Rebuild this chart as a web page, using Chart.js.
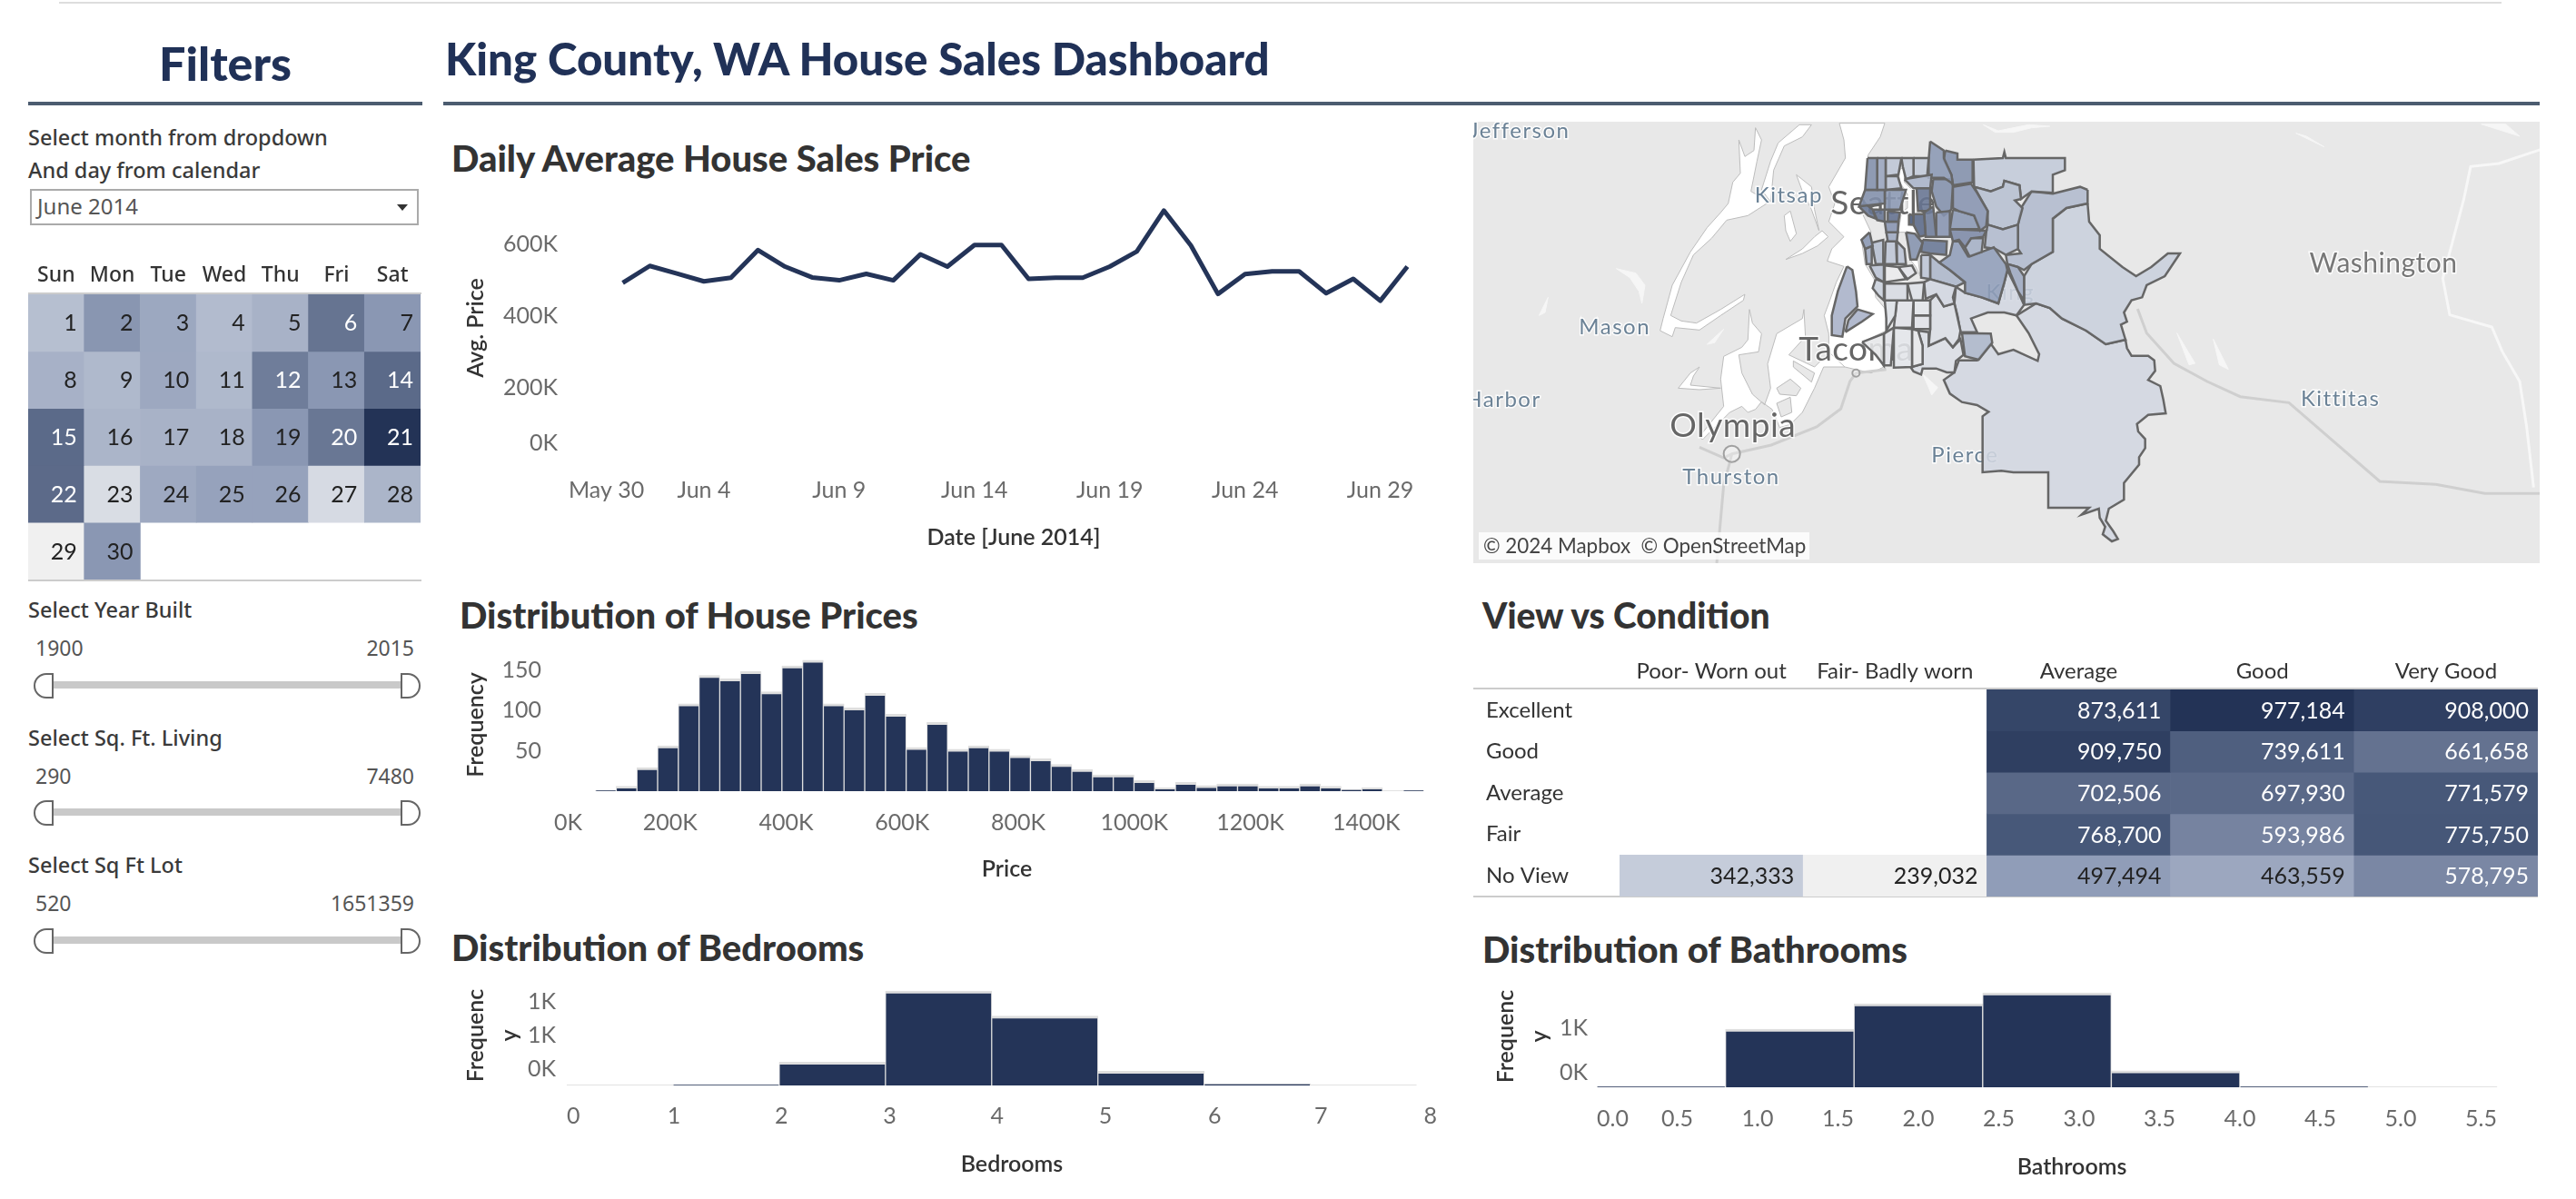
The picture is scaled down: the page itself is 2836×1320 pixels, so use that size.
<!DOCTYPE html>
<html>
<head>
<meta charset="utf-8">
<title>King County, WA House Sales Dashboard</title>
<script src="https://cdn.jsdelivr.net/npm/chart.js@4"></script>
<style>
  html, body { margin: 0; background: #fff; }
  #page { position: relative; width: 2836px; height: 1320px; overflow: hidden; font-family: Lato, sans-serif; color: #333; }
  #page canvas { position: absolute; }
  .t { position: absolute; white-space: nowrap; line-height: 1; transform: translateY(-50%); }
  .main { color: #203157; font-weight: 900; font-size: 49.3px; }
  .sec { font-weight: 900; font-size: 40px; color: #333; }
  .lab { font-family: "Noto Sans", sans-serif; font-weight: 500; font-size: 23.5px; color: #3a3a3a; }
  .val { font-family: "Noto Sans", sans-serif; font-size: 23px; color: #555; }
  .rule { position: absolute; }
  .track { position: absolute; left: 57px; width: 385px; height: 8px; background: #c9c9c9; }
  .grip { position: absolute; width: 18px; height: 24px; border: 2px solid #666; background: #fff; }
</style>
</head>
<body>
<div id="page">
  <div class="rule" style="left:65px;top:2px;width:2689px;height:2px;background:#ddd"></div>

  <div class="t main" style="left:175px;top:69px;font-size:52px">Filters</div>
  <div class="t main" style="left:490px;top:65px">King County, WA House Sales Dashboard</div>
  <div class="rule" style="left:31px;top:112px;width:434px;height:4px;background:#4c5c70"></div>
  <div class="rule" style="left:488px;top:112px;width:2308px;height:4px;background:#4c5c70"></div>

  <div class="t lab" style="left:31px;top:152px">Select month from dropdown</div>
  <div class="t lab" style="left:31px;top:188px">And day from calendar</div>
  <div class="rule" style="left:33px;top:208px;width:424px;height:36px;border:2px solid #aaa"></div>
  <div class="t val" style="left:41px;top:227px;font-size:24px">June 2014</div>
  <div class="rule" style="left:437px;top:225px;width:0;height:0;border-left:6px solid transparent;border-right:6px solid transparent;border-top:7px solid #333"></div>

  <div class="rule" style="left:31px;top:322px;width:433px;height:2px;background:#ccc"></div>
  <div class="rule" style="left:31px;top:638px;width:433px;height:2px;background:#ccc"></div>

  <div class="t lab" style="left:31px;top:672px">Select Year Built</div>
  <div class="t val" style="left:39px;top:713px">1900</div>
  <div class="t val" style="right:2380px;top:713px">2015</div>
  <div class="track" style="top:750px"></div>
  <div class="grip" style="left:37px;top:741px;border-radius:14px 0 0 14px"></div>
  <div class="grip" style="left:441px;top:741px;border-radius:0 14px 14px 0"></div>

  <div class="t lab" style="left:31px;top:813px">Select Sq. Ft. Living</div>
  <div class="t val" style="left:39px;top:854px">290</div>
  <div class="t val" style="right:2380px;top:854px">7480</div>
  <div class="track" style="top:890px"></div>
  <div class="grip" style="left:37px;top:881px;border-radius:14px 0 0 14px"></div>
  <div class="grip" style="left:441px;top:881px;border-radius:0 14px 14px 0"></div>

  <div class="t lab" style="left:31px;top:953px">Select Sq Ft Lot</div>
  <div class="t val" style="left:39px;top:994px">520</div>
  <div class="t val" style="right:2380px;top:994px">1651359</div>
  <div class="track" style="top:1031px"></div>
  <div class="grip" style="left:37px;top:1022px;border-radius:14px 0 0 14px"></div>
  <div class="grip" style="left:441px;top:1022px;border-radius:0 14px 14px 0"></div>

  <div class="t sec" style="left:497px;top:174px">Daily Average House Sales Price</div>
  <div class="t sec" style="left:506px;top:677px">Distribution of House Prices</div>
  <div class="t sec" style="left:497px;top:1043px">Distribution of Bedrooms</div>
  <div class="t sec" style="left:1632px;top:677px;font-size:39px">View vs Condition</div>
  <div class="t sec" style="left:1632px;top:1045px">Distribution of Bathrooms</div>

  <div class="rule" style="left:1622px;top:757px;width:1172px;height:2px;background:#ccc"></div>
  <div class="rule" style="left:1622px;top:986px;width:1172px;height:2px;background:#ccc"></div>
</div>

<script>
// ---- calendar + daily line (same values, the calendar colour is the avg price)
var juneDays = [1,2,3,4,5,6,7,8,9,10,11,12,13,14,15,16,17,18,19,20,21,22,23,24,25,26,27,28,29,30];
var dailyAvgPrice = [492000,539000,518000,496000,506000,583000,537000,507000,499000,517000,
                     499000,571000,537000,597000,597000,503000,506000,506000,537000,579000,
                     693000,596000,461000,516000,524000,524000,463000,503000,442000,537000];
var dateTickDays = [-1,4,9,14,19,24,29,31.9];
var dateTickLabels = ['May 30','Jun 4','Jun 9','Jun 14','Jun 19','Jun 24','Jun 29',''];
var priceTickSpots = [45000,200000,400000,600000];
var priceTickLabels = ['0K','200K','400K','600K'];

var weekdays = ['Sun','Mon','Tue','Wed','Thu','Fri','Sat'];
var calendarWeeks = [
  [1,2,3,4,5,6,7],
  [8,9,10,11,12,13,14],
  [15,16,17,18,19,20,21],
  [22,23,24,25,26,27,28],
  [29,30,null,null,null,null,null]
];

// ---- price histogram
var priceBinWidthK = 35.7;
var priceBinNumber = [2,3,4,5,6,7,8,9,10,11,12,13,14,15,16,17,18,19,20,21,22,23,24,25,26,27,28,29,30,31,32,33,34,35,36,37,38,39,41];
var priceBinCount = [1,6,29,56,108,143,139,148,123,155,162,108,103,121,95,54,85,52,56,52,44,40,33,27,20,20,13,4,11,7,9,9,6,6,9,6,2,4,1];
var histTickK = [0,200,400,600,800,1000,1200,1400,1561];
var histTickLabels = ['0K','200K','400K','600K','800K','1000K','1200K','1400K',''];
var freqTicks = [50,100,150];

// ---- bedrooms / bathrooms
var bedroomBins = [1.5,2.5,3.5,4.5,5.5,6.5];
var bedroomCount = [8,279,1130,830,170,18];
var bedroomTickSpots = [0,1.01,2.02,3.04,4.05,5.07,6.1,7.1,8.13,8.38];
var bedroomTickLabels = ['0','1','2','3','4','5','6','7','8',''];
var bedroomFreqSpots = [200,600,1000];
var bedroomFreqLabels = ['0K','1K','1K'];

var bathroomBins = [0.4,1.2,2.0,2.8,3.6,4.4];
var bathroomCount = [9,556,800,904,157,6];
var bathroomTicks = [0,0.5,1,1.5,2,2.5,3,3.5,4,4.5,5,5.5,5.91];
var bathroomTickLabels = ['0.0','0.5','1.0','1.5','2.0','2.5','3.0','3.5','4.0','4.5','5.0','5.5',''];
var bathroomFreqSpots = [140,565];
var bathroomFreqLabels = ['0K','1K'];

// ---- view vs condition
var conditions = ['Poor- Worn out','Fair- Badly worn','Average','Good','Very Good'];
var viewLevels = ['Excellent','Good','Average','Fair','No View'];
var excellentRow = [null,null,873611,977184,908000];
var goodRow = [null,null,909750,739611,661658];
var averageRow = [null,null,702506,697930,771579];
var fairRow = [null,null,768700,593986,775750];
var noViewRow = [342333,239032,497494,463559,578795];

// ---- map outlines in map units (3 units = 1 px)
var regionOutlines = [
  [455,305,470,310,470,340,455,340],
  [470,305,505,305,510,375,490,380,470,340],
  [505,300,535,280,545,380,510,380],
  [545,300,590,295,590,380,545,380],
  [445,365,475,370,500,400,480,455,460,455,455,420],
  [500,390,580,395,578,440,525,435,495,430],
  [480,220,525,220,525,295,485,295],
  [440,190,530,175,525,220,470,220],
  [318,120,350,120,350,225,310,225],
  [350,120,378,120,378,225,350,225],
  [378,120,430,120,420,175,378,180],
  [430,120,470,120,470,180,445,190,435,150],
  [470,120,520,120,515,180,470,180],
  [378,180,418,180,430,220,378,225],
  [310,225,375,225,375,270,290,280],
  [375,225,445,225,425,290,375,290],
  [290,280,310,270,335,290,345,320,320,310],
  [335,290,375,290,375,330,350,325],
  [385,295,425,300,420,330,385,330],
  [375,330,420,330,418,365,380,365],
  [380,365,418,365,415,395,385,395],
  [325,365,335,410,310,420,298,390],
  [310,420,332,410,332,470,315,470],
  [332,400,370,390,370,470,345,470],
  [378,395,412,395,415,470,375,470],
  [415,395,440,420,445,470,415,470],
  [325,475,372,472,372,530,345,515],
  [375,475,420,480,445,520,375,530],
  [420,480,465,475,478,500,450,520],
  [250,478,268,490,280,560,285,610,265,630,245,650,235,710,200,705,200,640,220,560],
  [245,695,255,655,285,620,335,635,300,660],
  [345,520,372,530,372,590,355,575,335,550],
  [375,535,450,535,450,590,420,590,375,590],
  [450,535,505,530,500,590,465,590],
  [505,530,525,520,610,545,600,580,605,600,570,610,545,570,510,585],
  [375,590,415,590,410,640,380,690,380,650],
  [415,590,470,590,465,680,405,680],
  [470,590,525,590,525,640,470,640],
  [470,640,525,640,525,685,470,685],
  [525,590,545,570,570,610,605,600,625,690,620,718,600,745,575,715,520,740,525,685],
  [300,728,372,700,372,805,345,770],
  [372,700,405,680,395,805,372,805],
  [405,680,465,685,465,810,405,812],
  [465,685,485,690,500,740,500,800,465,810],
  [485,690,520,695,520,740,575,715,600,745,625,718,635,770,610,790,605,828,580,828,545,815,500,815,495,835,470,825,460,810,500,800,500,740],
  [630,698,725,700,730,730,685,786,640,775],
  [525,65,570,95,570,120,595,175,600,205,570,185,520,185,520,125],
  [575,95,615,105,615,125,665,125,665,200,600,210,595,175,570,125],
  [535,190,590,190,600,210,595,290,570,310,545,280,530,230],
  [600,215,660,205,680,235,715,295,710,345,690,360,670,310,620,295,600,285],
  [600,290,620,295,670,310,690,355,590,355],
  [590,355,710,360,700,380,660,385,640,415,620,390,600,395],
  [640,415,660,385,700,385,695,430,655,445],
  [600,395,620,395,650,445,695,430,735,415,775,470,780,490,770,530,750,600,695,580,640,565,640,530,590,490,555,465,590,440],
  [780,470,815,480,835,510,835,590,815,560,790,500],
  [495,440,525,440,525,520,495,515],
  [525,440,555,465,590,490,640,530,610,545,525,520],
  [715,340,765,355,815,340,815,420,775,440,740,420,705,415,710,365],
  [670,215,725,230,765,215,770,195,820,210,825,255,805,260,830,285,815,340,765,355,715,340,715,295],
  [668,125,765,120,770,100,775,120,970,120,970,160,930,175,930,235,860,230,825,255,820,210,770,195,765,215,725,230,670,215],
  [1045,225,1020,215,930,238,860,230,825,285,815,340,815,420,825,435,775,440,780,470,815,480,835,490,860,470,930,430,930,320,975,285,1045,270],
  [610,545,640,565,695,580,750,600,770,530,780,490,815,560,835,605,810,640,770,630,715,630,660,650,680,695,625,695,615,640,605,600],
  [1045,270,1050,330,1085,375,1085,420,1160,480,1205,510,1255,480,1310,435,1350,435,1300,510,1240,540,1225,580,1190,590,1165,630,1175,660,1155,670,1170,720,1105,735,1040,690,960,650,920,615,875,600,835,605,835,510,860,470,930,430,930,320,975,285],
  [810,640,875,600,920,615,960,650,1040,690,1105,735,1170,720,1175,748,1190,773,1245,773,1265,788,1268,823,1245,853,1285,873,1295,918,1303,963,1245,968,1208,998,1212,1023,1235,1048,1235,1078,1215,1108,1215,1133,1165,1193,1165,1248,1115,1278,1105,1318,1130,1353,1145,1378,1125,1386,1095,1363,1103,1338,1085,1308,1082,1278,1025,1298,1050,1275,915,1275,915,1158,800,1158,760,1153,698,1158,698,973,718,958,680,936,630,926,590,898,570,853,605,828,620,788,680,788,725,733,750,768,800,753,880,790,885,768,850,698]
];
var regionLevel = [0.72,0.62,0.52,0.4,0.42,0.55,0.56,0.25,0.42,0.32,0.17,0.14,0.15,0.18,0.42,0.38,0.55,0.56,0.58,0.4,0.3,
                   0.38,0.3,0.2,0.17,0.18,0.18,0.02,0.05,0.26,0.26,0.12,0.08,0.06,0.1,0.06,0.05,0.04,0.05,0.07,
                   0.03,0.05,0.04,0.03,0.07,0.24,0.38,0.42,0.42,0.4,0.38,0.45,0.27,0.35,0.3,0.17,0.24,0.22,0.2,0.15,0.22,0.1,0.13,0.1];
var waterOutlines = [
  [225,5,375,5,360,50,320,110,310,225,290,280,330,365,298,390,310,470,340,520,345,580,378,620,380,690,300,728,345,770,372,810,330,830,243,810,190,760,190,700,175,640,190,600,215,530,240,478,185,460,200,420,240,380,190,330,210,270,190,215,245,120,240,60],
  [420,160,438,150,440,200,475,235,472,300,455,305,455,340,470,345,500,400,485,455,492,510,478,480,455,450,445,365,420,365,430,300,450,285,450,240,425,200],
  [-52,20,-32,60,-47,130,-67,230,-7,265,-77,310,-147,325,-197,385,-257,440,-297,530,-332,640,-297,658,-247,665,-167,620,-87,570,-92,590,-167,640,-237,688,-317,680,-327,710,-367,690,-357,650,-327,540,-267,430,-212,350,-167,300,-142,270,-127,200,-102,170,-107,60,-87,115,-57,95],
  [133,10,93,10,23,70,-2,130,-32,225,-2,265,8,160,43,80,103,50],
  [43,310,63,295,83,370,63,395,48,360],
  [48,455,103,420,143,380,168,360,188,380,153,410,103,435],
  [83,175,133,215,143,290,158,360,133,290,103,230],
  [-72,620,-62,665,-32,700,-42,760,-107,770,-97,830,-62,900,-22,935,-2,880,-12,800,18,700,103,650,108,620,113,710,58,770,143,810,183,770,198,720,243,720,243,810,173,810,143,880,103,960,63,1000,28,1010,3,950,-32,925,-52,950,-77,960,-97,940,-137,960,-177,1000,-227,1050,-237,1040,-157,940,-167,850,-157,775,-97,745,-77,720],
  [-307,880,-267,830,-237,810,-257,840,-267,870,-167,880,-237,885]
];
var islandOutlines = [
  [73,790,143,830,133,860,73,810],
  [18,880,63,850,98,880,83,905,28,900],
  [18,930,63,910,68,960,33,975]
];
var paleOutlines = [
  [-512,485,-447,500,-417,540,-427,600,-437,560,-467,515],
  [-767,640,-737,580,-747,630],
  [-212,735,-157,685,-187,730],
  [500,833,550,878,530,903,520,878],
  [1340,698,1400,798,1380,803],
  [1460,718,1510,818,1480,803],
  [700,10,750,30,850,10,920,15,860,20,800,35,740,35],
  [1733,38,1826,83,1768,48],
  [2345,8,2472,48,2426,8]
];
var riverLine = [2553,88,2403,138,2310,148,2287,258,2218,518,2241,638,2380,678,2414,758,2472,858,2495,1008,2518,1208];
var roadLines = [
  [1210,618,1240,698,1330,798,1440,858,1549,908,1710,928,2010,1188,2195,1198,2357,1228,2541,1228],
  [-237,1075,-157,1110,-130,1097,0,1068,150,1008,230,948,260,858,280,830,380,818],
  [-130,1097,-137,1125,-157,1200,-180,1458]
];
var mapLabels = ['Jefferson','Kitsap','Seattle','Mason','Washington','Kittitas','Harbor','Olympia','Thurston','Tacoma','Pierce','King'];
var mapLabelX = [-831,58,370,-517,2022,1880,-885,-127,-132,280,640,790];
var mapLabelY = [30,245,270,680,468,916,920,1005,1175,753,1103,565];
var mapLabelKind = ['small','small','big','small','mid','small','small','big','small','big','small','small'];
var cityDotX = [-130,280];
var cityDotY = [1097,830];

// ---- shared styling
var navy = '#243458';
var tickColor = '#6a6a6a';
var titleColor = '#333';
var rampStops = [0,0.14,0.35,0.57,0.72,1];
var rampRGB = [[240,240,240],[197,204,218],[144,157,184],[100,114,144],[71,88,121],[35,51,86]];

function rampColor(f, alpha) {
    var i = 0;
    while (i < rampStops.length - 2 && f > rampStops[i + 1]) i++;
    var k = (f - rampStops[i]) / (rampStops[i + 1] - rampStops[i]);
    var c = rampRGB[i].map(function (a, n) { return Math.round(a + (rampRGB[i + 1][n] - a) * k); });
    return 'rgba(' + c.join(',') + ',' + (alpha === undefined ? 1 : alpha) + ')';
}

function addCanvas(left, top, width, height) {
    var c = document.createElement('canvas');
    c.width = width;
    c.height = height;
    c.style.left = left + 'px';
    c.style.top = top + 'px';
    c.style.width = width + 'px';
    c.style.height = height + 'px';
    document.getElementById('page').appendChild(c);
    return c;
}

// pins an axis to a size and drops the room chart.js keeps for half labels
function fixedSize(px) {
    return function (scale) {
        if (scale.isHorizontal()) scale.height = px; else scale.width = px;
        scale.paddingTop = scale.paddingBottom = scale.paddingLeft = scale.paddingRight = 0;
    };
}

function placedTicks(spots) {
    return function (scale) {
        scale.ticks = spots.map(function (v) { return { value: v }; });
    };
}

Chart.defaults.font.family = 'Lato, sans-serif';
Chart.defaults.animation = false;
Chart.defaults.responsive = false;
Chart.defaults.devicePixelRatio = 1;
Chart.defaults.plugins.legend.display = false;
Chart.defaults.plugins.tooltip.enabled = false;
Chart.defaults.layout.autoPadding = false;

function axisTitle(text, lineHeight) {
    return { display: true, text: text, color: titleColor, padding: 0, font: { size: 25, weight: '600', lineHeight: lineHeight || 1.2 } };
}

// x axis that keeps its labels at given spots; first and last label stay inside
function spotXAxis(min, max, spots, labels, pad, height, title) {
    return {
        type: 'linear', min: min, max: max, offset: false,
        grid: { display: false, drawTicks: false }, border: { display: false },
        afterBuildTicks: placedTicks(spots), afterFit: fixedSize(height),
        ticks: { autoSkip: false, maxRotation: 0, align: 'inner', padding: pad, color: tickColor, font: { size: 25 },
                 callback: function (v, i) { return labels[i]; } },
        title: axisTitle(title)
    };
}

function spotYAxis(min, max, spots, labels, width, pad, title, lineHeight) {
    return {
        min: min, max: max,
        grid: { display: false, drawTicks: false }, border: { display: false },
        afterBuildTicks: placedTicks(spots), afterFit: fixedSize(width),
        ticks: { autoSkip: false, padding: pad, color: tickColor, font: { size: 25 },
                 callback: function (v, i) { return labels[i]; } },
        title: axisTitle(title, lineHeight)
    };
}

// writes a number into each heat cell
var cellText = {
    id: 'cellText',
    afterDatasetsDraw: function (chart, args, opts) {
        var ctx = chart.ctx;
        ctx.save();
        ctx.font = opts.size + 'px Lato, sans-serif';
        ctx.textAlign = 'right';
        ctx.textBaseline = 'middle';
        chart.data.datasets.forEach(function (ds, d) {
            chart.getDatasetMeta(d).data.forEach(function (bar, i) {
                if (ds.cellText[i] === null) return;
                ctx.fillStyle = ds.cellInk[i];
                ctx.fillText(ds.cellText[i], bar.x + bar.width / 2 - opts.pad, (bar.y + bar.base) / 2 + 1);
            });
        });
        ctx.restore();
    }
};

function heatDataset(values, row, low, high, toText) {
    var level = values.map(function (v) { return v === null ? 0 : (v - low) / (high - low); });
    return {
        data: values.map(function (v) { return v === null ? null : [row, row + 1]; }),
        grouped: false, categoryPercentage: 1, barPercentage: 1,
        backgroundColor: level.map(function (f) { return rampColor(f); }),
        cellText: values.map(function (v) { return v === null ? null : toText(v); }),
        cellInk: level.map(function (f) { return f >= 0.42 ? '#fff' : '#222'; })
    };
}

// ---- calendar
var priceLow = Math.min.apply(null, dailyAvgPrice);
var priceHigh = Math.max.apply(null, dailyAvgPrice);
new Chart(addCanvas(31, 280, 432, 358), {
    type: 'bar',
    data: {
        labels: weekdays,
        datasets: calendarWeeks.map(function (week, w) {
            var prices = week.map(function (d) { return d === null ? null : dailyAvgPrice[juneDays.indexOf(d)]; });
            var ds = heatDataset(prices, w, priceLow, priceHigh, String);
            ds.cellText = week.map(function (d) { return d; });
            return ds;
        })
    },
    options: {
        plugins: { cellText: { size: 25, pad: 8 } },
        scales: {
            x: { position: 'top', grid: { display: false, drawTicks: false }, border: { display: false }, afterFit: fixedSize(44),
                 ticks: { padding: 7, color: '#333', font: { family: '"Noto Sans", sans-serif', size: 23, weight: '500' } } },
            y: { display: false, min: 0, max: 5, reverse: true }
        }
    },
    plugins: [cellText]
});

// ---- daily average line
new Chart(addCanvas(509, 216, 1097, 391), {
    type: 'line',
    data: {
        datasets: [{
            data: juneDays.map(function (d, i) { return { x: d, y: dailyAvgPrice[i] }; }),
            borderColor: navy, borderWidth: 5, pointRadius: 0, tension: 0, borderJoinStyle: 'round'
        }]
    },
    options: {
        scales: {
            x: spotXAxis(-1, 31.9, dateTickDays, dateTickLabels, 19, 101, 'Date [June 2014]'),
            y: spotYAxis(0, 733000, priceTickSpots, priceTickLabels, 117, 12, 'Avg. Price')
        }
    }
});

// ---- histogram helper, with a faint zero line under the bars
function histChart(canvas, bins, counts, barPx, baseEnds, x, y) {
    return new Chart(canvas, {
        type: 'bar',
        data: {
            datasets: [{
                data: bins.map(function (b, i) { return { x: b, y: counts[i] }; }),
                backgroundColor: navy, barThickness: barPx,
                borderColor: '#dedede', borderWidth: { top: 3, left: 1, right: 1, bottom: 0 }, borderSkipped: false
            }, {
                type: 'line', data: [{ x: baseEnds[0], y: 0 }, { x: baseEnds[1], y: 0 }],
                borderColor: '#e2e2e2', borderWidth: 2, pointRadius: 0
            }]
        },
        options: { scales: { x: x, y: y } }
    });
}

// ---- price distribution
histChart(addCanvas(509, 725, 1098, 247),
    priceBinNumber.map(function (n) { return (n + 0.5) * priceBinWidthK; }), priceBinCount, 22.8, [71, 1488],
    spotXAxis(0, 1561, histTickK, histTickLabels, 20, 101, 'Price'),
    spotYAxis(0, 164, freqTicks, freqTicks, 101, 14, 'Frequency'));

// ---- bedrooms
histChart(addCanvas(505, 1085, 1099, 212), bedroomBins, bedroomCount, 117, [0, 8],
    spotXAxis(0, 8.38, bedroomTickSpots, bedroomTickLabels, 19, 102, 'Bedrooms'),
    spotYAxis(0, 1196, bedroomFreqSpots, bedroomFreqLabels, 119, 12, ['Frequenc', 'y'], 37 / 25));

// ---- bathrooms
histChart(addCanvas(1639, 1085, 1165, 215), bathroomBins, bathroomCount, 141.5, [0, 5.6],
    spotXAxis(0, 5.91, bathroomTicks, bathroomTickLabels, 20, 103, 'Bathrooms'),
    spotYAxis(0, 974, bathroomFreqSpots, bathroomFreqLabels, 119, 10, ['Frequenc', 'y'], 37 / 25));

// ---- view vs condition table
var tableLow = 239032;
var tableHigh = 977184;
var tableRows = [excellentRow, goodRow, averageRow, fairRow, noViewRow];
new Chart(addCanvas(1636, 715, 1158, 272), {
    type: 'bar',
    data: {
        labels: conditions,
        datasets: tableRows.map(function (row, r) {
            return heatDataset(row, r, tableLow, tableHigh, function (v) { return v.toLocaleString('en-US'); });
        })
    },
    options: {
        plugins: { cellText: { size: 25, pad: 10 } },
        scales: {
            x: { position: 'top', grid: { display: false, drawTicks: false }, border: { display: false }, afterFit: fixedSize(44),
                 ticks: { padding: 5, color: '#333', font: { size: 24 } } },
            y: { min: 0, max: 5, reverse: true, grid: { display: false, drawTicks: false }, border: { display: false },
                 afterBuildTicks: placedTicks([0.5, 1.5, 2.5, 3.5, 4.5]), afterFit: fixedSize(147),
                 ticks: { crossAlign: 'far', color: '#333', font: { size: 24 }, callback: function (v, i) { return viewLevels[i]; } } }
        }
    },
    plugins: [cellText]
});

// ---- map
function toPoints(flat) {
    var pts = [];
    for (var i = 0; i < flat.length; i += 2) pts.push({ x: flat[i], y: flat[i + 1] });
    return pts;
}

function shapeDataset(flat, fillColor, lineColor, lineWidth) {
    return { data: toPoints(flat.concat(flat.slice(0, 2))), showLine: true, fill: 'shape', backgroundColor: fillColor,
             borderColor: lineColor, borderWidth: lineWidth, pointRadius: 0, tension: 0 };
}

function lineDataset(flat, lineColor, lineWidth) {
    return { data: toPoints(flat), showLine: true, fill: false, borderColor: lineColor,
             borderWidth: lineWidth, pointRadius: 0, tension: 0 };
}

var mapRegions = regionOutlines.map(function (o, i) {
    return shapeDataset(o, rampColor(regionLevel[i], 0.88), '#666', 2.5);
});
var mapDots = { data: cityDotX.map(function (x, i) { return { x: x, y: cityDotY[i] }; }),
                pointRadius: [9, 4], pointBackgroundColor: 'rgba(255,255,255,.3)', pointBorderColor: '#a0a0a0', pointBorderWidth: 2 };
var mapLines = [lineDataset(riverLine, '#f7f7f7', 3)].concat(roadLines.map(function (r) { return lineDataset(r, '#cfcfcf', 3); }));
var mapIslands = islandOutlines.map(function (o) { return shapeDataset(o, '#e8e8e8', '#bbb', 1); });
var mapWater = waterOutlines.map(function (o) { return shapeDataset(o, '#fff', '#bdbdbd', 1); });
var mapPale = paleOutlines.map(function (o) { return shapeDataset(o, '#f6f6f6', '#f6f6f6', 1); });

var labelFont = { small: [24, '#6b8296', '1.5px'], mid: [30, '#777', '0.5px'], big: [37, '#666', '0.5px'] };
var placeNames = {
    id: 'placeNames',
    afterDatasetDraw: function (chart, args) {
        if (args.index !== mapRegions.length + 1) return;   // right before the regions are painted
        var ctx = chart.ctx;
        ctx.save();
        ctx.textAlign = 'center';
        ctx.textBaseline = 'middle';
        mapLabels.forEach(function (name, i) {
            var style = labelFont[mapLabelKind[i]];
            var px = chart.scales.x.getPixelForValue(mapLabelX[i]);
            var py = chart.scales.y.getPixelForValue(mapLabelY[i]);
            ctx.font = style[0] + 'px Lato, sans-serif';
            ctx.letterSpacing = style[2];
            ctx.lineWidth = 3;
            ctx.strokeStyle = 'rgba(255,255,255,.85)';
            ctx.strokeText(name, px, py);
            ctx.fillStyle = style[1];
            ctx.fillText(name, px, py);
        });
        ctx.restore();
    }
};

new Chart(addCanvas(1622, 134, 1174, 486), {
    type: 'scatter',
    data: { datasets: mapRegions.concat([mapDots]).concat(mapLines).concat(mapIslands).concat(mapWater).concat(mapPale) },
    options: {
        scales: {
            x: { display: false, min: -984, max: 2538 },
            y: { display: false, min: 0, max: 1458, reverse: true }
        }
    },
    plugins: [{
        id: 'mapGround',
        beforeDraw: function (chart) {
            chart.ctx.fillStyle = '#e8e8e8';
            chart.ctx.fillRect(0, 0, chart.width, chart.height);
        }
    }, placeNames]
});

var credit = document.createElement('div');
credit.textContent = '\u00a9 2024 Mapbox  \u00a9 OpenStreetMap';
credit.style.cssText = 'position:absolute;left:1628px;top:586px;width:364px;height:30px;line-height:30px;padding-left:5px;box-sizing:border-box;background:rgba(255,255,255,.8);font-size:22.4px;color:#444;white-space:pre;';
document.getElementById('page').appendChild(credit);
</script>
</body>
</html>
